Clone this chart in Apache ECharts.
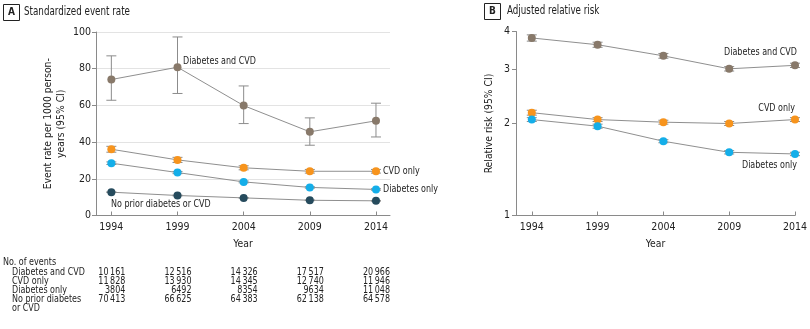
<!DOCTYPE html>
<html><head><meta charset="utf-8">
<script src="https://cdn.jsdelivr.net/npm/echarts@6/dist/echarts.min.js"></script>
<style>html,body{margin:0;padding:0;background:#fff}#c{width:810px;height:329px}</style>
</head><body><div id="c"></div>
<script>
const years = [1994, 1999, 2004, 2009, 2014];
// Panel A: standardized event rate per 1000 person-years
const aDiabCvd   = [74.1, 80.8, 59.9, 45.6, 51.6];
const aDiabCvdLo = [62.8, 66.5, 50.1, 38.3, 42.8];
const aDiabCvdHi = [87.0, 97.3, 70.6, 53.2, 61.2];
const aCvd   = [36.1, 30.3, 26.0, 24.1, 24.1];
const aCvdLo = [34.5, 28.9, 24.9, 23.1, 23.1];
const aCvdHi = [37.7, 31.7, 27.1, 25.1, 25.1];
const aDiab   = [28.5, 23.4, 18.3, 15.3, 14.2];
const aDiabLo = [27.8, 22.8, 17.8, 14.9, 13.8];
const aDiabHi = [29.2, 24.0, 18.8, 15.7, 14.6];
const aNone   = [12.7, 10.9, 9.6, 8.3, 8.0];
const aNoneLo = [12.5, 10.7, 9.4, 8.1, 7.8];
const aNoneHi = [12.9, 11.1, 9.8, 8.5, 8.2];
// Panel B: adjusted relative risk
const bDiabCvd   = [3.81, 3.62, 3.33, 3.02, 3.10];
const bDiabCvdLo = [3.72, 3.55, 3.27, 2.97, 3.05];
const bDiabCvdHi = [3.90, 3.69, 3.39, 3.07, 3.15];
const bCvd   = [2.17, 2.06, 2.02, 2.00, 2.06];
const bCvdLo = [2.13, 2.03, 1.99, 1.97, 2.03];
const bCvdHi = [2.21, 2.09, 2.05, 2.03, 2.09];
const bDiab   = [2.06, 1.96, 1.75, 1.61, 1.59];
const bDiabLo = [2.03, 1.93, 1.73, 1.59, 1.57];
const bDiabHi = [2.09, 1.99, 1.77, 1.63, 1.61];
const yTicksA = [0, 20, 40, 60, 80, 100];
const yTicksB = [1, 2, 3, 4];
// Table: number of events
const rowLabels = ['Diabetes and CVD', 'CVD only', 'Diabetes only', 'No prior diabetes'];
const nDiabCvd = ['10\u2009161', '12\u2009516', '14\u2009326', '17\u2009517', '20\u2009966'];
const nCvd     = ['11\u2009828', '13\u2009930', '14\u2009345', '12\u2009740', '11\u2009946'];
const nDiab    = ['3804', '6492', '8354', '9634', '11\u2009048'];
const nNone    = ['70\u2009413', '66\u2009625', '64\u2009383', '62\u2009138', '64\u2009578'];

const FONT = '"DejaVu Sans Condensed", "DejaVu Sans", sans-serif';
const C_DC = '#88796a', C_CVD = '#f7941d', C_D = '#14aee9', C_N = '#264b5d';
const LINE = '#8f8f8f', AXIS = '#8a8a8a', TXT = '#222';

const chart = echarts.init(document.getElementById('c'), null, {renderer: 'canvas'});

function pts(v) { return years.map((y, i) => [y, v[i]]); }
function ci(lo, hi) { return years.map((y, i) => [y, lo[i], hi[i]]); }
function errRender(params, api) {
  const x = api.value(0);
  const p1 = api.coord([x, api.value(1)]);
  const p2 = api.coord([x, api.value(2)]);
  const w = 5;
  const style = {stroke: '#8c8c8c', lineWidth: 1};
  return {type: 'group', children: [
    {type: 'line', shape: {x1: p1[0], y1: p1[1], x2: p2[0], y2: p2[1]}, style},
    {type: 'line', shape: {x1: p1[0] - w, y1: p1[1], x2: p1[0] + w, y2: p1[1]}, style},
    {type: 'line', shape: {x1: p2[0] - w, y1: p2[1], x2: p2[0] + w, y2: p2[1]}, style}
  ]};
}
function lineS(idx, data, color) {
  return {type: 'line', xAxisIndex: idx, yAxisIndex: idx, data: pts(data), symbol: 'circle',
    symbolSize: 8, lineStyle: {color: LINE, width: 1}, itemStyle: {color: color},
    z: 3, animation: false, silent: true};
}
function errS(idx, lo, hi) {
  return {type: 'custom', xAxisIndex: idx, yAxisIndex: idx, data: ci(lo, hi),
    renderItem: errRender, z: 2, animation: false, silent: true};
}
const axisCommon = {
  axisLine: {show: true, lineStyle: {color: AXIS, width: 1}},
  axisLabel: {color: TXT, fontFamily: FONT, fontSize: 10.5},
  nameTextStyle: {color: TXT, fontFamily: FONT, fontSize: 10.3, lineHeight: 13}
};
const xAxisDef = (idx, min, max) => Object.assign({}, axisCommon, {
  type: 'value', gridIndex: idx, min: min, max: max,
  name: 'Year', nameLocation: 'middle', nameGap: 22,
  splitLine: {show: false},
  axisTick: {show: true, inside: true, length: 4, lineStyle: {color: AXIS}, customValues: years},
  axisLabel: Object.assign({}, axisCommon.axisLabel, {margin: 6, customValues: years, formatter: v => String(v)})
});

const option = {
  animation: false,
  backgroundColor: '#fff',
  grid: [
    {left: 96, top: 32, width: 294, height: 183.5},
    {left: 516, top: 31.5, width: 281, height: 184}
  ],
  xAxis: [xAxisDef(0, 1992.84, 2015.06), xAxisDef(1, 1992.8, 2014)],
  yAxis: [
    Object.assign({}, axisCommon, {type: 'value', gridIndex: 0, min: 0, max: 100, interval: 20,
      name: 'Event rate per 1000 person-\nyears (95% CI)', nameLocation: 'middle', nameGap: 28, nameRotate: 90,
      splitLine: {show: true, lineStyle: {color: '#e3e3e3', width: 1}},
      axisTick: {show: true, length: 4, lineStyle: {color: AXIS}},
      axisLabel: Object.assign({}, axisCommon.axisLabel, {margin: 5})}),
    Object.assign({}, axisCommon, {type: 'log', logBase: 2, gridIndex: 1, min: 1, max: 4,
      name: 'Relative risk (95% CI)', nameLocation: 'middle', nameGap: 20, nameRotate: 90,
      splitLine: {show: false},
      axisTick: {show: true, length: 4, lineStyle: {color: AXIS}, customValues: yTicksB},
      axisLabel: Object.assign({}, axisCommon.axisLabel, {margin: 6, customValues: yTicksB, formatter: v => String(Math.round(v))})})
  ],
  series: [
    errS(0, aDiabCvdLo, aDiabCvdHi), errS(0, aCvdLo, aCvdHi), errS(0, aDiabLo, aDiabHi), errS(0, aNoneLo, aNoneHi),
    lineS(0, aDiabCvd, C_DC), lineS(0, aCvd, C_CVD), lineS(0, aDiab, C_D), lineS(0, aNone, C_N),
    errS(1, bDiabCvdLo, bDiabCvdHi), errS(1, bCvdLo, bCvdHi), errS(1, bDiabLo, bDiabHi),
    lineS(1, bDiabCvd, C_DC), lineS(1, bCvd, C_CVD), lineS(1, bDiab, C_D)
  ]
};
chart.setOption(option);

function txt(x, y, s, size, sx, opts) {
  return {type: 'text', x: x, y: y, scaleX: sx, silent: true,
    style: Object.assign({text: s, fill: TXT, font: size + 'px ' + FONT, textVerticalAlign: 'middle'}, opts || {})};
}
const g = [];
// Panel titles
g.push({type: 'rect', shape: {x: 3.5, y: 4.5, width: 16, height: 16}, style: {fill: '#fff', stroke: '#222', lineWidth: 1}});
g.push(txt(11.5, 12.8, 'A', 10, 1, {font: 'bold 10px ' + FONT, textAlign: 'center'}));
g.push(txt(24, 12, 'Standardized event rate', 12, 0.81));
g.push({type: 'rect', shape: {x: 484.5, y: 3.5, width: 16, height: 16}, style: {fill: '#fff', stroke: '#222', lineWidth: 1}});
g.push(txt(492.5, 11.8, 'B', 10, 1, {font: 'bold 10px ' + FONT, textAlign: 'center'}));
g.push(txt(507, 11, 'Adjusted relative risk', 12, 0.81));
// Series annotations
const AS = 10, AX = 0.89;
g.push(txt(183, 61, 'Diabetes and CVD', AS, AX));
g.push(txt(383, 171, 'CVD only', AS, AX));
g.push(txt(383, 189.5, 'Diabetes only', AS, AX));
g.push(txt(111, 204, 'No prior diabetes or CVD', AS, AX));
g.push(txt(797, 52, 'Diabetes and CVD', AS, AX, {textAlign: 'right'}));
g.push(txt(795, 108, 'CVD only', AS, AX, {textAlign: 'right'}));
g.push(txt(797, 165, 'Diabetes only', AS, AX, {textAlign: 'right'}));
// Table
const rowY = [272, 281, 290, 299];
g.push(txt(3, 262.5, 'No. of events', AS, AX));
rowLabels.forEach((s, r) => g.push(txt(12, rowY[r], s, AS, AX)));
g.push(txt(12, 308, 'or CVD', AS, AX));
[nDiabCvd, nCvd, nDiab, nNone].forEach((arr, r) => {
  arr.forEach((s, i) => {
    const px = chart.convertToPixel({xAxisIndex: 0}, years[i]);
    g.push(txt(px + 14, rowY[r], s, AS, AX, {textAlign: 'right'}));
  });
});
chart.setOption({graphic: g});
</script>
</body></html>
